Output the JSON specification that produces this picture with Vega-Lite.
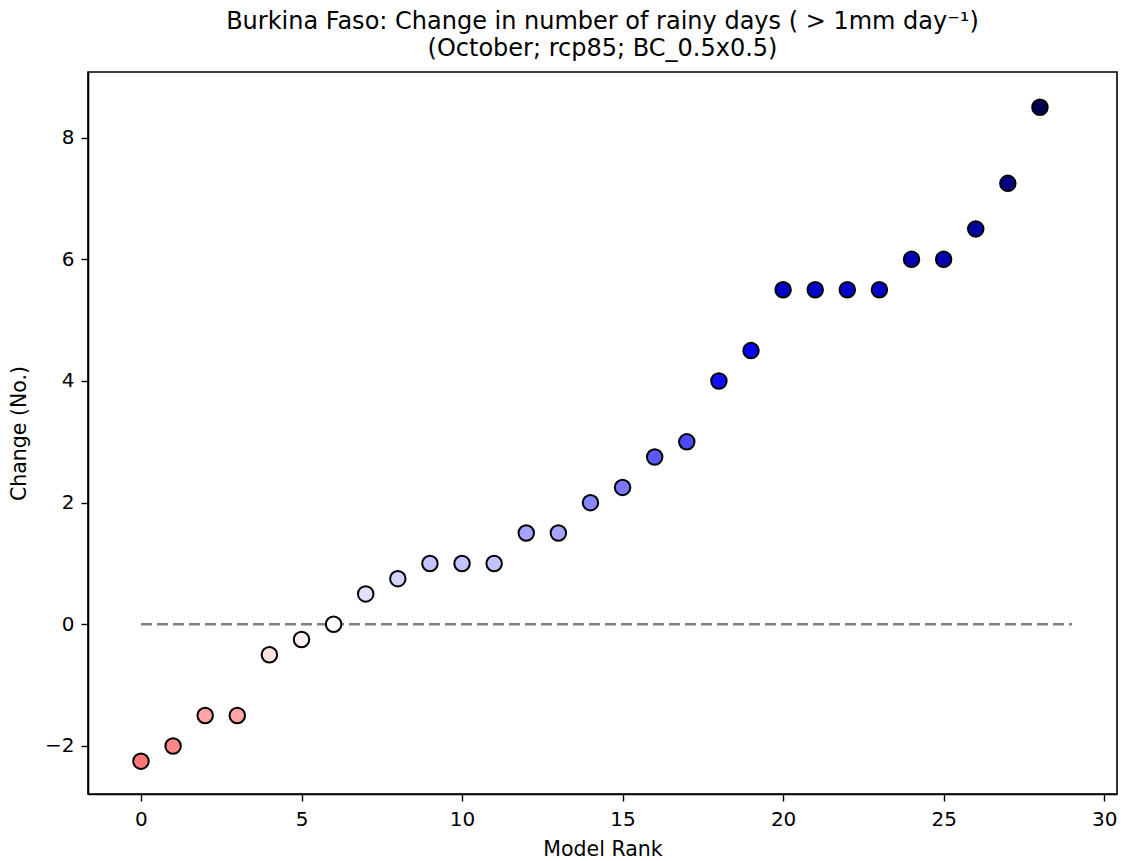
{
  "$schema": "https://vega.github.io/schema/vega-lite/v6.json",
  "width": 1029,
  "height": 722,
  "autosize": "none",
  "padding": {"left": 88, "top": 72, "right": 4, "bottom": 67},
  "background": "white",
  "config": {
    "font": "DejaVu Sans",
    "view": {"stroke": "black", "strokeWidth": 1.6},
    "axis": {
      "grid": false,
      "domainColor": "black",
      "domainWidth": 1.6,
      "tickColor": "black",
      "tickWidth": 1.4,
      "tickSize": 7,
      "labelColor": "black",
      "labelFontSize": 20,
      "labelPadding": 6,
      "titleColor": "black",
      "titleFontSize": 20.5,
      "titleFontWeight": "normal"
    }
  },
  "title": {
    "text": ["Burkina Faso: Change in number of rainy days ( > 1mm day⁻¹)", "(October; rcp85; BC_0.5x0.5)"],
    "anchor": "middle",
    "fontSize": 24,
    "fontWeight": "normal",
    "color": "black",
    "lineHeight": 27,
    "offset": 11
  },
  "datasets": {
    "points": [
      {"rank": 0, "change": -2.25},
      {"rank": 1, "change": -2},
      {"rank": 2, "change": -1.5},
      {"rank": 3, "change": -1.5},
      {"rank": 4, "change": -0.5},
      {"rank": 5, "change": -0.25},
      {"rank": 6, "change": 0},
      {"rank": 7, "change": 0.5},
      {"rank": 8, "change": 0.75},
      {"rank": 9, "change": 1},
      {"rank": 10, "change": 1},
      {"rank": 11, "change": 1},
      {"rank": 12, "change": 1.5},
      {"rank": 13, "change": 1.5},
      {"rank": 14, "change": 2},
      {"rank": 15, "change": 2.25},
      {"rank": 16, "change": 2.75},
      {"rank": 17, "change": 3},
      {"rank": 18, "change": 4},
      {"rank": 19, "change": 4.5},
      {"rank": 20, "change": 5.5},
      {"rank": 21, "change": 5.5},
      {"rank": 22, "change": 5.5},
      {"rank": 23, "change": 5.5},
      {"rank": 24, "change": 6},
      {"rank": 25, "change": 6},
      {"rank": 26, "change": 6.5},
      {"rank": 27, "change": 7.25},
      {"rank": 28, "change": 8.5}
    ],
    "zero": [
      {"rank": 0, "change": 0},
      {"rank": 29, "change": 0}
    ]
  },
  "layer": [
    {
      "data": {"name": "zero"},
      "mark": {"type": "line", "color": "#808080", "strokeWidth": 2.6, "strokeDash": [11, 5]},
      "encoding": {
        "x": {"field": "rank", "type": "quantitative"},
        "y": {"field": "change", "type": "quantitative"}
      }
    },
    {
      "data": {"name": "points"},
      "mark": {"type": "point", "filled": true, "shape": "circle", "size": 240, "stroke": "black", "strokeWidth": 2, "opacity": 1},
      "encoding": {
        "x": {
          "field": "rank", "type": "quantitative", "title": "Model Rank",
          "scale": {"domain": [-1.65, 30.4], "nice": false, "zero": false},
          "axis": {"values": [0, 5, 10, 15, 20, 25, 30], "format": "d", "titlePadding": 10, "labelPadding": 8, "labelFontSize": 20}
        },
        "y": {
          "field": "change", "type": "quantitative", "title": "Change (No.)",
          "scale": {"domain": [-2.79, 9.08], "nice": false, "zero": false},
          "axis": {"values": [-2, 0, 2, 4, 6, 8], "format": "d", "labelExpr": "replace(datum.label, '-', '−')", "titlePadding": 15, "labelPadding": 7, "labelFontSize": 20}
        },
        "fill": {
          "field": "change", "type": "quantitative", "legend": null,
          "scale": {"domain": [-8.5, -4.25, 0, 4.25, 8.5], "range": ["#800000", "#ff0000", "#ffffff", "#0000ff", "#00004d"], "interpolate": "rgb"}
        }
      }
    }
  ]
}
